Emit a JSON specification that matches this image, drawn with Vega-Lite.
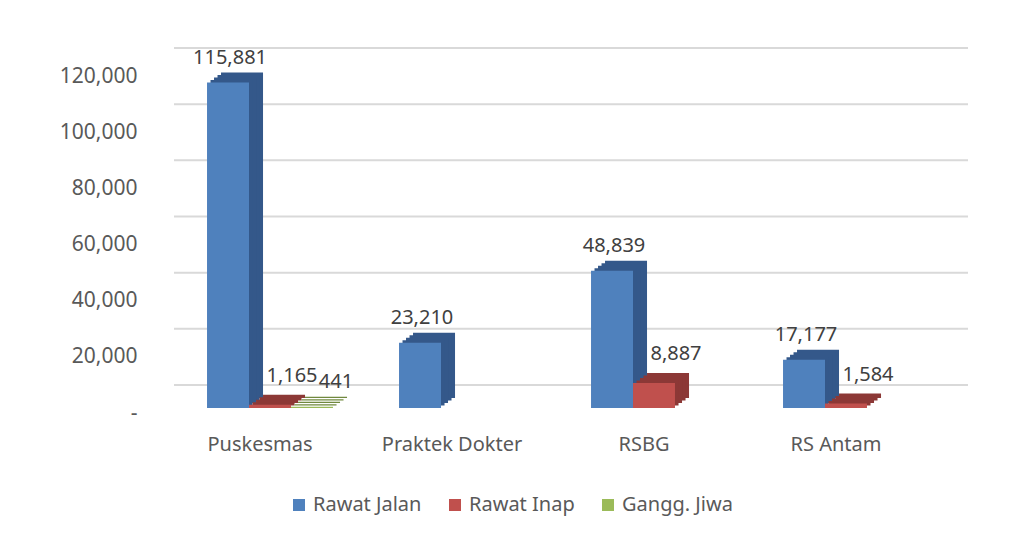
{
  "$schema": "https://vega.github.io/schema/vega-lite/v6.json",
  "width": 768,
  "height": 337,
  "autosize": {"type": "none"},
  "padding": {"left": 174, "top": 71, "right": 70, "bottom": 127},
  "background": "white",
  "config": {"view": {"stroke": null}, "font": "Noto Sans"},
  "datasets": {
    "bars": [
      {"Fasilitas": "Puskesmas", "Jenis": "Rawat Jalan", "Jumlah": 115881},
      {"Fasilitas": "Puskesmas", "Jenis": "Rawat Inap", "Jumlah": 1165},
      {"Fasilitas": "Puskesmas", "Jenis": "Gangg. Jiwa", "Jumlah": 441},
      {"Fasilitas": "Praktek Dokter", "Jenis": "Rawat Jalan", "Jumlah": 23210},
      {"Fasilitas": "RSBG", "Jenis": "Rawat Jalan", "Jumlah": 48839},
      {"Fasilitas": "RSBG", "Jenis": "Rawat Inap", "Jumlah": 8887},
      {"Fasilitas": "RS Antam", "Jenis": "Rawat Jalan", "Jumlah": 17177},
      {"Fasilitas": "RS Antam", "Jenis": "Rawat Inap", "Jumlah": 1584}
    ],
    "grid": [
      {"v": 0}, {"v": 20000}, {"v": 40000}, {"v": 60000},
      {"v": 80000}, {"v": 100000}, {"v": 120000}
    ]
  },
  "layer": [
    {
      "data": {"name": "grid"},
      "mark": {"type": "rule", "color": "#D9D9D9", "strokeWidth": 2, "xOffset": 26, "yOffset": -23, "x2Offset": 26, "y2Offset": -23},
      "encoding": {
        "y": {
          "field": "v", "type": "quantitative",
          "scale": {"domain": [0, 120000], "nice": false},
          "axis": {
            "title": null,
            "values": [0, 20000, 40000, 60000, 80000, 100000, 120000],
            "labelExpr": "datum.value === 0 ? '-' : format(datum.value, ',')",
            "grid": false, "domain": false, "ticks": false,
            "labelPadding": 37, "labelFontSize": 21, "labelColor": "#595959",
            "labelOffset": 5, "labelFont": "Noto Sans"
          }
        }
      }
    },
    {
      "data": {"name": "bars"},
      "mark": {"type": "bar", "yOffset": -10, "y2Offset": -10},
      "encoding": {
        "x": {
          "field": "Fasilitas", "type": "nominal",
          "scale": {"domain": ["Puskesmas", "Praktek Dokter", "RSBG", "RS Antam"], "paddingInner": 0.344, "paddingOuter": 0.172},
          "axis": {"title": null, "domain": false, "ticks": false, "labelAngle": 0, "labelPadding": 26, "labelFontSize": 20, "labelColor": "#595959", "labelOffset": -10, "labelFont": "Noto Sans"}
        },
        "xOffset": {"field": "Jenis", "type": "nominal", "scale": {"domain": ["Rawat Jalan", "Rawat Inap", "Gangg. Jiwa"], "range": [14, 140], "paddingInner": 0, "paddingOuter": 0}},
        "y": {"field": "Jumlah", "type": "quantitative"},
        "color": {"field": "Jenis", "type": "nominal", "legend": null, "scale": {"domain": ["Rawat Jalan", "Rawat Inap", "Gangg. Jiwa"], "range": ["#34588A", "#8C3836", "#71893F"]}}
      }
    },
    {
      "data": {"name": "bars"},
      "mark": {"type": "bar", "yOffset": -7.5, "y2Offset": -7.5},
      "encoding": {
        "x": {"field": "Fasilitas", "type": "nominal"},
        "xOffset": {"field": "Jenis", "type": "nominal", "scale": {"domain": ["Rawat Jalan", "Rawat Inap", "Gangg. Jiwa"], "range": [10.5, 136.5], "paddingInner": 0, "paddingOuter": 0}},
        "y": {"field": "Jumlah", "type": "quantitative"},
        "color": {"field": "Jenis", "type": "nominal", "legend": null, "scale": {"domain": ["Rawat Jalan", "Rawat Inap", "Gangg. Jiwa"], "range": ["#34588A", "#8C3836", "#71893F"]}}
      }
    },
    {
      "data": {"name": "bars"},
      "mark": {"type": "bar", "yOffset": -5, "y2Offset": -5},
      "encoding": {
        "x": {"field": "Fasilitas", "type": "nominal"},
        "xOffset": {"field": "Jenis", "type": "nominal", "scale": {"domain": ["Rawat Jalan", "Rawat Inap", "Gangg. Jiwa"], "range": [7, 133], "paddingInner": 0, "paddingOuter": 0}},
        "y": {"field": "Jumlah", "type": "quantitative"},
        "color": {"field": "Jenis", "type": "nominal", "legend": null, "scale": {"domain": ["Rawat Jalan", "Rawat Inap", "Gangg. Jiwa"], "range": ["#34588A", "#8C3836", "#71893F"]}}
      }
    },
    {
      "data": {"name": "bars"},
      "mark": {"type": "bar", "yOffset": -2.5, "y2Offset": -2.5},
      "encoding": {
        "x": {"field": "Fasilitas", "type": "nominal"},
        "xOffset": {"field": "Jenis", "type": "nominal", "scale": {"domain": ["Rawat Jalan", "Rawat Inap", "Gangg. Jiwa"], "range": [3.5, 129.5], "paddingInner": 0, "paddingOuter": 0}},
        "y": {"field": "Jumlah", "type": "quantitative"},
        "color": {"field": "Jenis", "type": "nominal", "legend": null, "scale": {"domain": ["Rawat Jalan", "Rawat Inap", "Gangg. Jiwa"], "range": ["#34588A", "#8C3836", "#71893F"]}}
      }
    },
    {
      "data": {"name": "bars"},
      "layer": [
        {
          "mark": {"type": "bar"},
          "encoding": {
            "x": {"field": "Fasilitas", "type": "nominal"},
            "xOffset": {"field": "Jenis", "type": "nominal", "scale": {"domain": ["Rawat Jalan", "Rawat Inap", "Gangg. Jiwa"], "paddingInner": 0, "paddingOuter": 0}},
            "y": {"field": "Jumlah", "type": "quantitative"},
            "color": {
              "field": "Jenis", "type": "nominal",
              "scale": {"domain": ["Rawat Jalan", "Rawat Inap", "Gangg. Jiwa"], "range": ["#4F81BD", "#C0504D", "#9BBB59"]},
              "legend": {
                "title": null, "orient": "none", "legendX": 115, "legendY": 424,
                "direction": "horizontal", "symbolType": "square", "symbolSize": 144,
                "symbolStrokeWidth": 0, "labelFontSize": 20, "labelColor": "#595959",
                "labelFont": "Noto Sans", "columnPadding": 23, "labelOffset": 4
              }
            }
          }
        },
        {
          "transform": [{"filter": "datum.Jenis === 'Rawat Jalan'"}],
          "mark": {"type": "text", "fontSize": 20, "color": "#404040", "dx": 2, "dy": -19, "baseline": "alphabetic", "align": "center"},
          "encoding": {
            "x": {"field": "Fasilitas", "type": "nominal"},
            "xOffset": {"field": "Jenis", "type": "nominal"},
            "y": {"field": "Jumlah", "type": "quantitative"},
            "text": {"field": "Jumlah", "type": "quantitative", "format": ","}
          }
        },
        {
          "transform": [{"filter": "datum.Jenis === 'Rawat Inap'"}],
          "mark": {"type": "text", "fontSize": 20, "color": "#404040", "dx": 22, "dy": -23, "baseline": "alphabetic", "align": "center"},
          "encoding": {
            "x": {"field": "Fasilitas", "type": "nominal"},
            "xOffset": {"field": "Jenis", "type": "nominal"},
            "y": {"field": "Jumlah", "type": "quantitative"},
            "text": {"field": "Jumlah", "type": "quantitative", "format": ","}
          }
        },
        {
          "transform": [{"filter": "datum.Jenis === 'Gangg. Jiwa'"}],
          "mark": {"type": "text", "fontSize": 20, "color": "#404040", "dx": 24, "dy": -19, "baseline": "alphabetic", "align": "center"},
          "encoding": {
            "x": {"field": "Fasilitas", "type": "nominal"},
            "xOffset": {"field": "Jenis", "type": "nominal"},
            "y": {"field": "Jumlah", "type": "quantitative"},
            "text": {"field": "Jumlah", "type": "quantitative", "format": ","}
          }
        }
      ]
    }
  ],
  "resolve": {"scale": {"color": "independent", "xOffset": "independent"}}
}
